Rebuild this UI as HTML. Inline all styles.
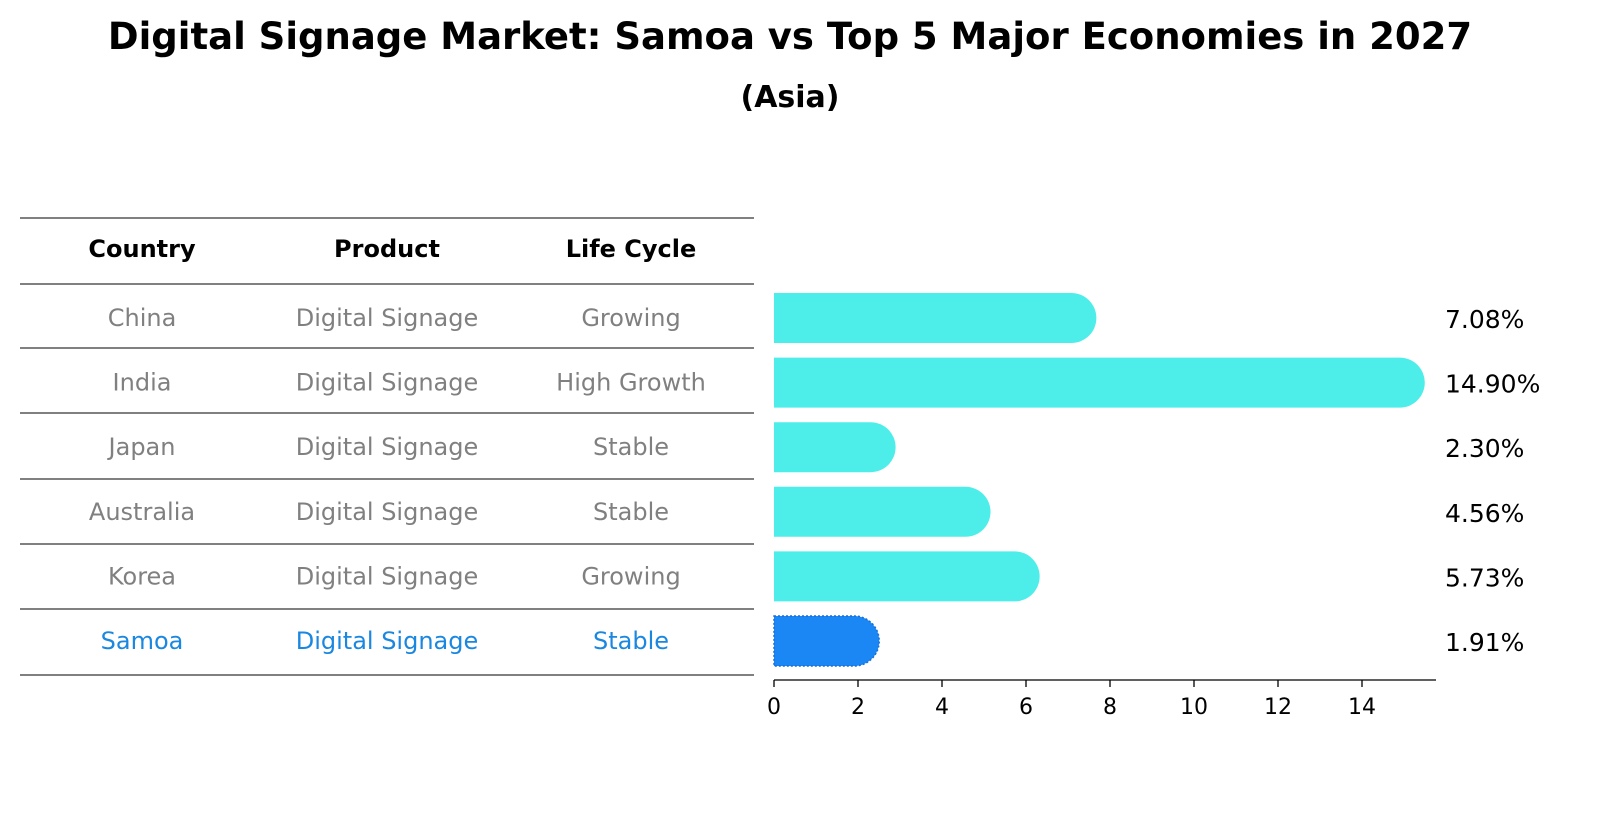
<!DOCTYPE html>
<html><head><meta charset="utf-8"><style>
body{margin:0;background:#fff;font-family:"Liberation Sans","DejaVu Sans",sans-serif;}
svg{display:block}
</style></head><body>
<svg id="c" width="1604" height="823" xmlns="http://www.w3.org/2000/svg">
<text x="790" y="49" text-anchor="middle" font-size="37" font-weight="bold" font-family="DejaVu Sans, Liberation Sans, sans-serif">Digital Signage Market: Samoa vs Top 5 Major Economies in 2027</text>
<text x="790" y="107" text-anchor="middle" font-size="30" font-weight="bold" font-family="DejaVu Sans, Liberation Sans, sans-serif">(Asia)</text>
<g id="table"></g>
<g id="bars"></g>
</svg>
<script>
const countries=["China","India","Japan","Australia","Korea","Samoa"];
const products=["Digital Signage","Digital Signage","Digital Signage","Digital Signage","Digital Signage","Digital Signage"];
const lifeCycles=["Growing","High Growth","Stable","Stable","Growing","Stable"];
const values=[7.08,14.90,2.30,4.56,5.73,1.91];
const ticks=[0,2,4,6,8,10,12,14];
const NS="http://www.w3.org/2000/svg";
function mk(t,a,p){const e=document.createElementNS(NS,t);for(const k in a)e.setAttribute(k,a[k]);p.appendChild(e);return e;}
const tbl=document.getElementById('table'),bars=document.getElementById('bars');
const F="DejaVu Sans, Liberation Sans, sans-serif";
const colX=[142,387,631];
const rowY=i=>318+i*64.6;
const lines=[218,284,348,413,479,544,609,675];
lines.forEach(y=>{const l=mk('line',{x1:20,x2:754,y1:y,y2:y,stroke:'#000','stroke-width':1},tbl);

});
["Country","Product","Life Cycle"].forEach((h,j)=>{const t=mk('text',{x:colX[j],y:257,'text-anchor':'middle','font-size':24,'font-weight':'bold','font-family':F},tbl);t.textContent=h;

});
countries.forEach((c,i)=>{const col=c==="Samoa"?"#1a87e0":"#808080";
[c,products[i],lifeCycles[i]].forEach((v,j)=>{const t=mk('text',{x:colX[j],y:rowY(i)+8,'text-anchor':'middle','font-size':24,fill:col,'font-family':F},tbl);t.textContent=v;

});});
const x0=774,k=42,axisY=680;
const xs=v=>x0+v*k;
countries.forEach((c,i)=>{const y=rowY(i),h=50,r=25,xe=xs(values[i]);
const col=c==="Samoa"?"#1a87f5":"#4deeea";
const p=mk('path',{d:`M${x0},${y-h/2}H${xe}A${r},${r} 0 0 1 ${xe},${y+h/2}H${x0}Z`,fill:col},bars);
if(c==="Samoa"){p.setAttribute('stroke','#1a6fd8');p.setAttribute('stroke-dasharray','2,2');p.setAttribute('stroke-width','1.5');}


const t=mk('text',{x:1445,y:y+10,'font-size':25,'font-family':F},bars);t.textContent=values[i].toFixed(2)+'%';

});
const ax=mk('line',{x1:x0,x2:1436,y1:axisY,y2:axisY,stroke:'#000','stroke-width':1.3},bars);


ticks.forEach(v=>{const tl=mk('line',{x1:xs(v),x2:xs(v),y1:axisY,y2:axisY+7,stroke:'#000','stroke-width':1.3},bars);


const t=mk('text',{x:xs(v),y:axisY+34,'text-anchor':'middle','font-size':22,'font-family':F},bars);t.textContent=v;

});
</script>
</body></html>
